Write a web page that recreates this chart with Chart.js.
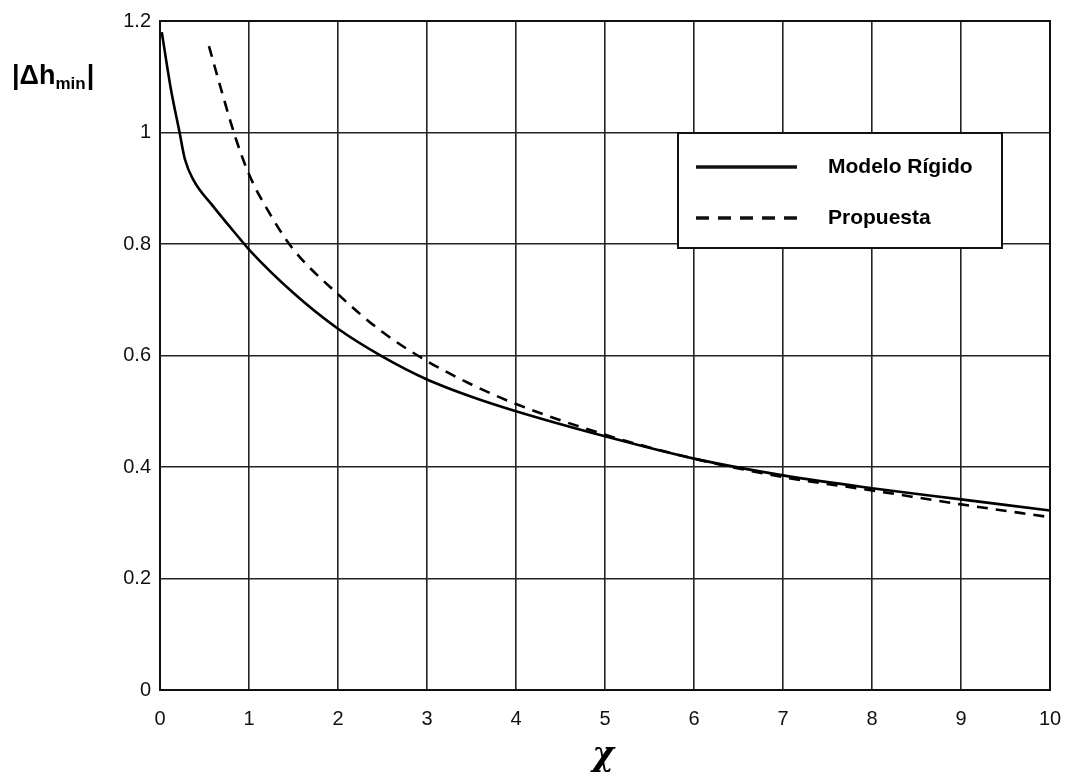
<!DOCTYPE html>
<html>
<head>
<meta charset="utf-8">
<script src="https://cdn.jsdelivr.net/npm/chart.js@4.4.1/dist/chart.umd.min.js"></script>
<style>
html,body{margin:0;padding:0;background:#fff;}
#wrap{width:1072px;height:776px;}
</style>
</head>
<body>
<div id="wrap"><canvas id="c" width="1072" height="776"></canvas></div>
<script>
// ---- data ----
const rigidX = [0.02, 0.12, 0.22, 0.28, 0.375, 0.6, 0.91, 1, 1.5, 2, 2.5, 3, 3.5, 4, 5, 6, 7, 8, 9, 10];
const rigidY = [1.18, 1.08, 1.0, 0.952, 0.915, 0.867, 0.807, 0.79, 0.712, 0.648, 0.598, 0.557, 0.526, 0.5, 0.455, 0.415, 0.385, 0.362, 0.342, 0.322];
const propX = [0.55, 0.7, 0.85, 1, 1.25, 1.5, 2, 2.5, 3, 3.5, 4, 5, 6, 7, 8, 9, 10];
const propY = [1.155, 1.07, 0.99, 0.925, 0.85, 0.79, 0.71, 0.642, 0.59, 0.548, 0.513, 0.458, 0.415, 0.382, 0.358, 0.333, 0.31];
const xTicks = ["0","1","2","3","4","5","6","7","8","9","10"];
const yTicks = ["0","0.2","0.4","0.6","0.8","1","1.2"];
const seriesNames = ["Modelo Rígido", "Propuesta"];

const toPts = (xs, ys) => xs.map((x, i) => ({x: x, y: ys[i]}));

const FONT = "'Liberation Sans', Arial, Helvetica, sans-serif";

const overlay = {
  id: 'overlay',
  afterDraw(chart) {
    const ctx = chart.ctx;
    const a = chart.chartArea;
    ctx.save();
    // plot border
    ctx.strokeStyle = '#111';
    ctx.lineWidth = 2;
    ctx.strokeRect(a.left, a.top, a.right - a.left, a.bottom - a.top);

    // legend box
    const lx = 678, ly = 133, lw = 324, lh = 115;
    ctx.fillStyle = '#fff';
    ctx.fillRect(lx, ly, lw, lh);
    ctx.lineWidth = 2;
    ctx.strokeStyle = '#111';
    ctx.strokeRect(lx, ly, lw, lh);
    ctx.lineWidth = 3.5;
    ctx.beginPath(); ctx.moveTo(696, 167); ctx.lineTo(797, 167); ctx.stroke();
    ctx.setLineDash([13, 9]);
    ctx.beginPath(); ctx.moveTo(696, 218); ctx.lineTo(797, 218); ctx.stroke();
    ctx.setLineDash([]);
    ctx.fillStyle = '#000';
    ctx.font = "bold 21px " + FONT;
    ctx.textBaseline = 'middle';
    ctx.textAlign = 'left';
    ctx.fillText(seriesNames[0], 828, 167);
    ctx.fillText(seriesNames[1], 828, 218);

    // y-axis title |Δh_min|
    ctx.textBaseline = 'alphabetic';
    ctx.font = "bold 27px " + FONT;
    let x = 12;
    ctx.fillText("|Δh", x, 84);
    x += ctx.measureText("|Δh").width;
    ctx.font = "bold 17px " + FONT;
    ctx.fillText("min", x, 89);
    x += ctx.measureText("min").width + 1;
    ctx.font = "bold 27px " + FONT;
    ctx.fillText("|", x, 84);

    // x-axis title
    ctx.font = "italic bold 33px 'DejaVu Serif', 'Liberation Serif', serif";
    ctx.textAlign = 'center';
    ctx.textBaseline = 'alphabetic';
    ctx.fillText("χ", 603, 765);
    ctx.restore();
  }
};

new Chart(document.getElementById('c'), {
  type: 'scatter',
  data: {
    datasets: [
      {
        label: seriesNames[0],
        data: toPts(rigidX, rigidY),
        showLine: true,
        borderColor: '#000',
        borderWidth: 2.6,
        pointRadius: 0,
        cubicInterpolationMode: 'monotone',
        fill: false
      },
      {
        label: seriesNames[1],
        data: toPts(propX, propY),
        showLine: true,
        borderColor: '#000',
        borderWidth: 2.6,
        borderDash: [11, 8],
        pointRadius: 0,
        cubicInterpolationMode: 'monotone',
        fill: false
      }
    ]
  },
  options: {
    responsive: false,
    animation: false,
    devicePixelRatio: 1,
    layout: { padding: { left: 0, top: 21, right: 22, bottom: 0 } },
    plugins: { legend: { display: false }, tooltip: { enabled: false } },
    scales: {
      x: {
        type: 'linear', min: 0, max: 10,
        afterFit(s) { s.height = 86; s.paddingRight = 0; s.paddingLeft = 0; },
        afterBuildTicks(s) { s.ticks = xTicks.map(v => ({value: Number(v)})); },
        ticks: {
          padding: 17, color: '#111',
          font: { family: FONT, size: 20 },
          callback: (v) => xTicks[Math.round(v)]
        },
        grid: { color: '#222', lineWidth: 1.6, tickLength: 0, drawTicks: false },
        border: { display: false }
      },
      y: {
        type: 'linear', min: 0, max: 1.2,
        afterFit(s) { s.width = 160; s.paddingTop = 0; s.paddingBottom = 0; },
        afterBuildTicks(s) { s.ticks = yTicks.map(v => ({value: Number(v)})); },
        ticks: {
          padding: 9, color: '#111',
          font: { family: FONT, size: 20 },
          callback: (v) => yTicks[Math.round(v * 5)]
        },
        grid: { color: '#222', lineWidth: 1.6, tickLength: 0, drawTicks: false },
        border: { display: false }
      }
    }
  },
  plugins: [overlay]
});
</script>
</body>
</html>
